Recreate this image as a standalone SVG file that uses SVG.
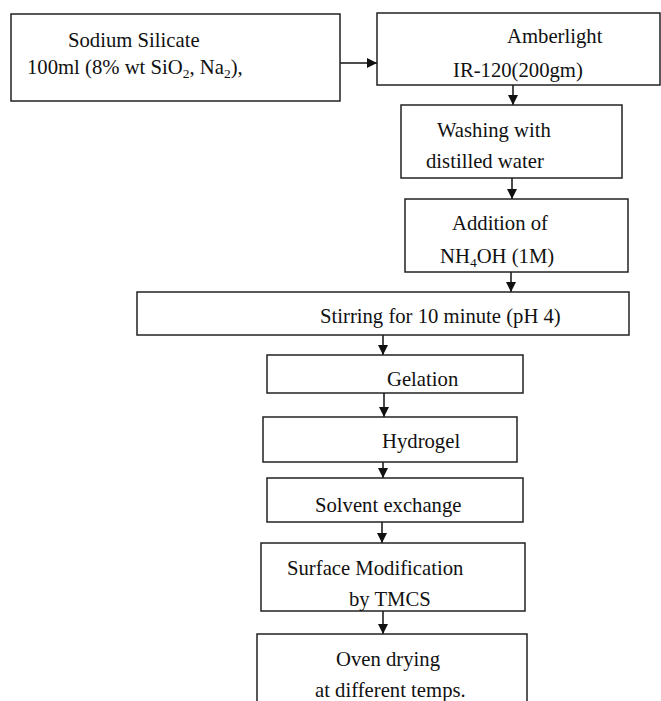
<svg xmlns="http://www.w3.org/2000/svg" width="661" height="701" viewBox="0 0 661 701">
<style>
.box{fill:#fff;stroke:#222;stroke-width:1.5}
.t{font-family:"Liberation Serif","Times New Roman",serif;font-size:20.7px;fill:#111}
.sub{font-size:13.5px}
.c{stroke:#111;stroke-width:1.5;fill:none;marker-end:url(#ah)}
</style>
<defs>
<marker id="ah" markerUnits="userSpaceOnUse" markerWidth="10" markerHeight="10" refX="10" refY="5" orient="auto">
<path d="M0,0 L10,5 L0,10 z" fill="#111"/>
</marker>
</defs>
<rect width="661" height="701" fill="#fff"/>
<g id="connectors">
<line class="c" x1="340" y1="63" x2="377" y2="63"/>
<line class="c" x1="513" y1="85" x2="513" y2="105"/>
<line class="c" x1="512" y1="178" x2="512" y2="199"/>
<line class="c" x1="511" y1="272" x2="511" y2="292"/>
<line class="c" x1="383" y1="335" x2="383" y2="355"/>
<line class="c" x1="384" y1="393" x2="384" y2="417"/>
<line class="c" x1="383" y1="462" x2="383" y2="478"/>
<line class="c" x1="382" y1="522" x2="382" y2="543"/>
<line class="c" x1="383" y1="611" x2="383" y2="634"/>
</g>
<g id="sodium-silicate">
<rect class="box" x="11" y="14" width="329" height="87"/>
<text class="t" x="68" y="47">Sodium Silicate</text>
<text class="t" x="27" y="74">100ml (8% wt SiO<tspan class="sub" dy="4">2</tspan><tspan dy="-4">, Na</tspan><tspan class="sub" dy="4">2</tspan><tspan dy="-4">),</tspan></text>
</g>
<g id="amberlight">
<rect class="box" x="377" y="13" width="283" height="72"/>
<text class="t" x="507" y="43">Amberlight</text>
<text class="t" x="453" y="77">IR-120(200gm)</text>
</g>
<g id="washing">
<rect class="box" x="401" y="105" width="221" height="73"/>
<text class="t" x="437" y="137">Washing with</text>
<text class="t" x="426" y="168">distilled water</text>
</g>
<g id="addition">
<rect class="box" x="405" y="199" width="223" height="73"/>
<text class="t" x="452" y="230">Addition of</text>
<text class="t" x="440" y="263">NH<tspan class="sub" dy="4">4</tspan><tspan dy="-4">OH (1M)</tspan></text>
</g>
<g id="stirring">
<rect class="box" x="137" y="292" width="492" height="43"/>
<text class="t" x="320" y="323">Stirring for 10 minute (pH 4)</text>
</g>
<g id="gelation">
<rect class="box" x="267" y="355" width="256" height="38"/>
<text class="t" x="387" y="386">Gelation</text>
</g>
<g id="hydrogel">
<rect class="box" x="263" y="417" width="254" height="45"/>
<text class="t" x="382" y="448">Hydrogel</text>
</g>
<g id="solvent-exchange">
<rect class="box" x="267" y="478" width="256" height="44"/>
<text class="t" x="315" y="512">Solvent exchange</text>
</g>
<g id="surface-modification">
<rect class="box" x="261" y="543" width="264" height="68"/>
<text class="t" x="287" y="575">Surface Modification</text>
<text class="t" x="349" y="606">by TMCS</text>
</g>
<g id="oven-drying">
<rect class="box" x="257" y="634" width="270" height="80"/>
<text class="t" x="336" y="666">Oven drying</text>
<text class="t" x="315" y="697">at different temps.</text>
</g>
</svg>
